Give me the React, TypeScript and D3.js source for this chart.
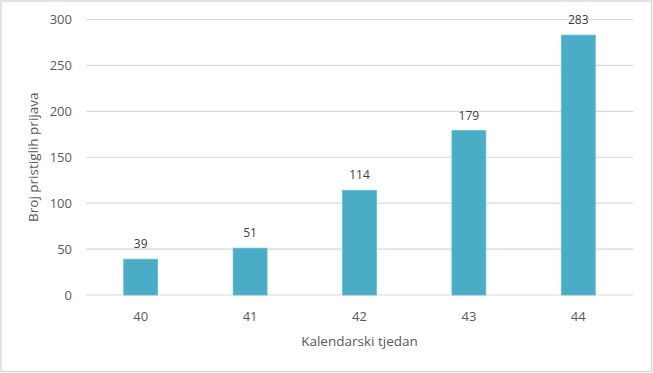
import React, { useEffect, useRef } from "react";
import * as d3 from "d3";

const weeks = ["40", "41", "42", "43", "44"];
const counts = [39, 51, 114, 179, 283];
const yTicks = [0, 50, 100, 150, 200, 250, 300];

const W = 653;
const H = 373;

export default function App() {
  const svgRef = useRef<SVGSVGElement>(null);

  useEffect(() => {
    document.body.style.margin = "0";
    if (!svgRef.current) return;
    const svg = d3.select(svgRef.current);
    svg.selectAll("*").remove();

    const left = 86;
    const right = 633;
    const top = 19.5;
    const bottom = 295;
    const font = "'Open Sans', 'Noto Sans', sans-serif";
    const textColor = "#595959";

    // chart border
    svg
      .append("rect")
      .attr("x", 1)
      .attr("y", 1)
      .attr("width", W - 2.5)
      .attr("height", H - 2.5)
      .attr("fill", "#fff")
      .attr("stroke", "#d9d9d9")
      .attr("stroke-width", 1.5);

    const x = d3.scaleBand<string>().domain(weeks).range([left, right]).paddingInner(0.69).paddingOuter(0.345);
    const y = d3.scaleLinear().domain([0, 300]).range([bottom, top]);

    // gridlines
    svg
      .append("g")
      .selectAll("line")
      .data(yTicks)
      .enter()
      .append("line")
      .attr("x1", left)
      .attr("x2", right)
      .attr("y1", (d) => y(d))
      .attr("y2", (d) => y(d))
      .attr("stroke", "#d9d9d9")
      .attr("stroke-width", 1.2);

    // y tick labels
    svg
      .append("g")
      .selectAll("text")
      .data(yTicks)
      .enter()
      .append("text")
      .attr("x", 72)
      .attr("y", (d) => y(d))
      .attr("dy", "0.35em")
      .attr("text-anchor", "end")
      .attr("fill", textColor)
      .style("font-family", font)
      .style("font-size", "13px")
      .text((d) => d);

    // bars
    svg
      .append("g")
      .selectAll("rect")
      .data(counts)
      .enter()
      .append("rect")
      .attr("x", (_, i) => x(weeks[i])!)
      .attr("y", (d) => y(d))
      .attr("width", x.bandwidth())
      .attr("height", (d) => bottom - y(d))
      .attr("fill", "#4bacc6")
      .attr("stroke", "#5cbcd4")
      .attr("stroke-width", 0.8);

    // data labels
    svg
      .append("g")
      .selectAll("text")
      .data(counts)
      .enter()
      .append("text")
      .attr("x", (_, i) => x(weeks[i])! + x.bandwidth() / 2)
      .attr("y", (d) => y(d) - 11)
      .attr("text-anchor", "middle")
      .attr("fill", "#404040")
      .style("font-family", font)
      .style("font-size", "12px")
      .text((d) => d);

    // x tick labels
    svg
      .append("g")
      .selectAll("text")
      .data(weeks)
      .enter()
      .append("text")
      .attr("x", (d) => x(d)! + x.bandwidth() / 2)
      .attr("y", 316)
      .attr("dy", "0.35em")
      .attr("text-anchor", "middle")
      .attr("fill", textColor)
      .style("font-family", font)
      .style("font-size", "13px")
      .text((d) => d);

    // axis titles
    svg
      .append("text")
      .attr("x", (left + right) / 2)
      .attr("y", 341)
      .attr("dy", "0.35em")
      .attr("text-anchor", "middle")
      .attr("fill", textColor)
      .style("font-family", font)
      .style("font-size", "13.5px")
      .text("Kalendarski tjedan");

    svg
      .append("text")
      .attr("transform", `translate(33, ${(top + bottom) / 2}) rotate(-90)`)
      .attr("dy", "0.35em")
      .attr("text-anchor", "middle")
      .attr("fill", textColor)
      .style("font-family", font)
      .style("font-size", "13.5px")
      .text("Broj pristiglih prijava");
  }, []);

  return <svg ref={svgRef} width={W} height={H} style={{ display: "block" }} />;
}
